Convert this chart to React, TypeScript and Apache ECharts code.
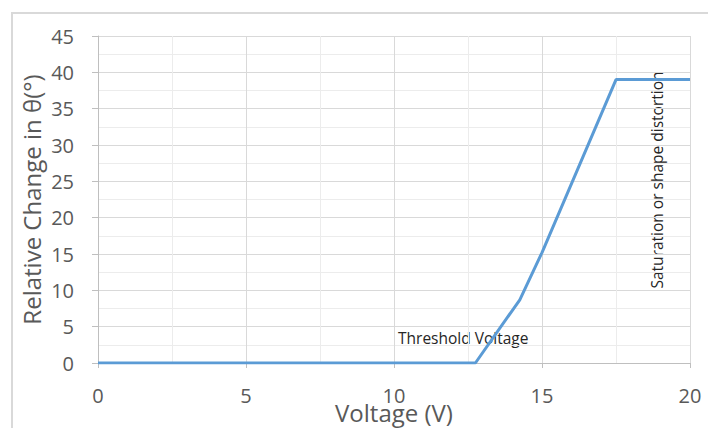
import React, { useEffect, useRef } from "react";
import * as echarts from "echarts";

const voltage = [0, 12.75, 14.25, 15, 17.5, 20];
const change = [0, 0, 8.7, 15.2, 39, 39];
const xTitle = "Voltage (V)";
const yTitle = "Relative Change in θ(°)";
const thresholdLabel = "Threshold Voltage";
const saturationLabel = "Saturation or shape distortion";

const FONT = "'Open Sans', 'Liberation Sans', sans-serif";
const GRAY = "#595959";

export default function App() {
  const ref = useRef<HTMLDivElement>(null);
  useEffect(() => {
    if (!ref.current) return;
    const chart = echarts.init(ref.current, null, { renderer: "svg" });
    chart.setOption({
      animation: false,
      backgroundColor: "#ffffff",
      grid: { left: 98, right: 18, top: 36, bottom: 65, outerBoundsMode: "none", containLabel: false },
      xAxis: {
        type: "value",
        min: 0,
        max: 20,
        interval: 5,
        axisLine: { show: true, lineStyle: { color: "#bfbfbf", width: 1 } },
        axisTick: { show: true, length: 5, lineStyle: { color: "#bfbfbf" } },
        axisLabel: { color: GRAY, fontSize: 20, fontFamily: FONT, margin: 22 },
        splitLine: { show: true, lineStyle: { color: "#d9d9d9" } },
        minorTick: { show: false, splitNumber: 2 },
        minorSplitLine: { show: true, lineStyle: { color: "#ececec" } },
        name: xTitle,
        nameLocation: "middle",
        nameGap: 37,
        nameMoveOverlap: false,
        nameTextStyle: { color: GRAY, fontSize: 24, fontFamily: FONT },
      },
      yAxis: {
        type: "value",
        min: 0,
        max: 45,
        interval: 5,
        axisLine: { show: true, lineStyle: { color: "#bfbfbf", width: 1 } },
        axisTick: { show: true, length: 6, lineStyle: { color: "#bfbfbf" } },
        axisLabel: { color: GRAY, fontSize: 20, fontFamily: FONT, margin: 24 },
        splitLine: { show: true, lineStyle: { color: "#d9d9d9" } },
        minorTick: { show: false, splitNumber: 2 },
        minorSplitLine: { show: true, lineStyle: { color: "#ececec" } },
        name: yTitle,
        nameLocation: "middle",
        nameGap: 55,
        nameMoveOverlap: false,
        nameTextStyle: { color: GRAY, fontSize: 24, fontFamily: FONT },
      },
      series: [
        {
          type: "line",
          data: voltage.map((v, i) => [v, change[i]]),
          showSymbol: false,
          lineStyle: { color: "#5b9bd5", width: 3 },
          z: 5,
        },
      ],
      graphic: [
        {
          type: "rect",
          shape: { x: 12, y: 13, width: 720, height: 440 },
          style: { fill: "none", stroke: "#d9d9d9", lineWidth: 2 },
          silent: true,
        },
        {
          type: "text",
          x: 398,
          y: 338,
          style: {
            text: thresholdLabel,
            fill: "#262626",
            fontSize: 15.5,
            fontFamily: FONT,
            verticalAlign: "middle",
            align: "left",
          },
        },
        {
          type: "text",
          x: 657,
          y: 180,
          rotation: Math.PI / 2,
          style: {
            text: saturationLabel,
            fill: "#262626",
            fontSize: 15.5,
            fontFamily: FONT,
            verticalAlign: "middle",
            align: "center",
          },
        },
      ],
    });
    return () => chart.dispose();
  }, []);
  return (
    <div
      ref={ref}
      style={{ position: "fixed", left: 0, top: 0, width: 708, height: 428 }}
    />
  );
}
